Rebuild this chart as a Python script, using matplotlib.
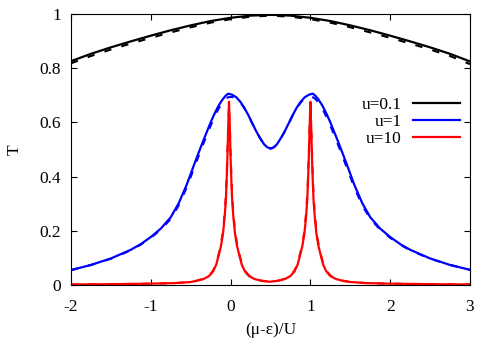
import matplotlib
matplotlib.use('Agg')
import matplotlib.pyplot as plt

plt.rcParams['font.family'] = ['Liberation Serif', 'DejaVu Serif']

# u=0.1 (black)
x_black = [-2.0, -1.75, -1.5, -1.25, -1.0, -0.75, -0.5, -0.25, 0.0, 0.25, 0.5,
           0.75, 1.0, 1.25, 1.5, 1.75, 2.0, 2.25, 2.5, 2.75, 3.0]
t_black = [0.826, 0.853, 0.877, 0.899, 0.920, 0.940, 0.958, 0.974, 0.986, 0.994, 0.997,
           0.994, 0.986, 0.974, 0.958, 0.940, 0.920, 0.899, 0.877, 0.853, 0.825]
t_black_d = [0.818, 0.845, 0.869, 0.891, 0.912, 0.932, 0.951, 0.968, 0.981, 0.990, 0.994,
             0.990, 0.981, 0.968, 0.951, 0.932, 0.912, 0.891, 0.869, 0.845, 0.815]

# u=1 (blue)
x_blue = [-2.0, -1.75, -1.5, -1.25, -1.125, -1.0, -0.875, -0.75, -0.65, -0.55,
          -0.45, -0.35, -0.25, -0.2, -0.15, -0.1, -0.06, -0.03, 0.02, 0.07,
          0.12, 0.17, 0.22, 0.27, 0.32, 0.37, 0.42, 0.46, 0.5,
          0.54, 0.58, 0.63, 0.68, 0.73, 0.78, 0.83, 0.88, 0.93, 0.98,
          1.03, 1.06, 1.1, 1.15, 1.2, 1.25, 1.35, 1.45, 1.55, 1.65,
          1.75, 1.875, 2.0, 2.125, 2.25, 2.5, 2.75, 3.0]
t_blue = [0.055, 0.074, 0.098, 0.13, 0.151, 0.177, 0.208, 0.25, 0.302, 0.37,
          0.45, 0.527, 0.60, 0.633, 0.662, 0.685, 0.699, 0.706, 0.702, 0.693,
          0.677, 0.655, 0.628, 0.598, 0.568, 0.542, 0.519, 0.508, 0.504,
          0.508, 0.519, 0.542, 0.568, 0.598, 0.628, 0.655, 0.677, 0.693, 0.702,
          0.706, 0.699, 0.685, 0.662, 0.633, 0.60, 0.527, 0.45, 0.37, 0.302,
          0.25, 0.208, 0.177, 0.151, 0.13, 0.098, 0.074, 0.056]
t_blue_d = [0.055, 0.074, 0.097, 0.128, 0.149, 0.174, 0.204, 0.244, 0.294, 0.36,
            0.438, 0.515, 0.588, 0.621, 0.651, 0.674, 0.687, 0.693, 0.694, 0.688,
            0.674, 0.653, 0.627, 0.597, 0.567, 0.541, 0.518, 0.507, 0.503,
            0.507, 0.518, 0.541, 0.567, 0.597, 0.627, 0.653, 0.674, 0.688, 0.694,
            0.693, 0.687, 0.674, 0.651, 0.621, 0.588, 0.515, 0.438, 0.36, 0.294,
            0.244, 0.204, 0.174, 0.149, 0.128, 0.097, 0.074, 0.056]

# u=10 (red)
x_red = [-2.0, -1.5, -1.0, -0.7, -0.5, -0.42, -0.34, -0.27, -0.22, -0.18, -0.145, -0.12,
         -0.095, -0.075, -0.06, -0.05, -0.04, -0.03, -0.02, -0.01, 0.0, 0.01, 0.02,
         0.035, 0.055, 0.08, 0.105, 0.14, 0.18, 0.23, 0.30, 0.38, 0.49,
         0.6, 0.68, 0.75, 0.8, 0.84, 0.875, 0.9, 0.925, 0.945, 0.96, 0.97, 0.98, 0.99,
         1.0, 1.01, 1.02, 1.03, 1.04, 1.055, 1.075, 1.1, 1.125, 1.16, 1.2, 1.25, 1.32,
         1.4, 1.5, 1.7, 2.0, 2.5, 3.0]
t_red = [0.002, 0.003, 0.005, 0.007, 0.011, 0.016, 0.022, 0.033, 0.05, 0.075, 0.115, 0.145,
         0.19, 0.25, 0.31, 0.38, 0.47, 0.58, 0.676, 0.58, 0.47, 0.38, 0.31,
         0.25, 0.19, 0.145, 0.115, 0.075, 0.05, 0.033, 0.022, 0.016, 0.012,
         0.016, 0.022, 0.033, 0.05, 0.075, 0.115, 0.145, 0.19, 0.25, 0.31, 0.38, 0.47, 0.58,
         0.676, 0.58, 0.47, 0.38, 0.31, 0.25, 0.19, 0.145, 0.115, 0.075, 0.05, 0.033, 0.022,
         0.016, 0.011, 0.007, 0.005, 0.003, 0.002]
t_red_d = [0.002, 0.003, 0.005, 0.007, 0.011, 0.016, 0.023, 0.035, 0.053, 0.08, 0.12, 0.155,
           0.2, 0.265, 0.33, 0.40, 0.49, 0.59, 0.66, 0.59, 0.49, 0.40, 0.33,
           0.265, 0.2, 0.155, 0.12, 0.08, 0.053, 0.035, 0.023, 0.016, 0.012,
           0.016, 0.023, 0.035, 0.053, 0.08, 0.12, 0.155, 0.2, 0.265, 0.33, 0.40, 0.49, 0.59,
           0.66, 0.59, 0.49, 0.40, 0.33, 0.265, 0.2, 0.155, 0.12, 0.08, 0.053, 0.035, 0.023,
           0.016, 0.011, 0.007, 0.005, 0.003, 0.002]

xticks = [-2, -1, 0, 1, 2, 3]
yticks = [0, 0.2, 0.4, 0.6, 0.8, 1]
ytick_labels = ['0', '0.2', '0.4', '0.6', '0.8', '1']

fig = plt.figure(figsize=(4.85, 3.46), dpi=100)
ax = fig.add_axes([71 / 485, 1 - 285 / 346, 399 / 485, 271 / 346])

dash = (0, (3.5, 5))
ax.plot(x_black, t_black_d, color='black', lw=1.5, ls=dash)
ax.plot(x_blue, t_blue_d, color='#0000ff', lw=1.5, ls=dash)
ax.plot(x_red, t_red_d, color='#ff0000', lw=1.5, ls=dash)
ax.plot(x_black, t_black, color='black', lw=1.6, label='u=0.1')
ax.plot(x_blue, t_blue, color='#0000ff', lw=1.6, label='u=1')
ax.plot(x_red, t_red, color='#ff0000', lw=1.6, label='u=10')

ax.set_xlim(-2, 3)
ax.set_ylim(0, 1)
ax.set_xticks(xticks)
ax.set_xticklabels([str(v) for v in xticks])
ax.set_yticks(yticks)
ax.set_yticklabels(ytick_labels)
ax.tick_params(direction='in', top=True, right=True, length=4, width=0.8,
               labelsize=12.5, colors='black')
ax.tick_params(axis='x', pad=10)
ax.tick_params(axis='y', pad=7)
for s in ax.spines.values():
    s.set_linewidth(0.8)

ax.set_xlabel('(μ-ε)/U', fontsize=12.5, labelpad=5)
ax.set_ylabel('T', fontsize=12.5, labelpad=12)

ax.legend(loc='upper right', bbox_to_anchor=(0.975, 0.695), frameon=False,
          markerfirst=False, fontsize=12.5, handlelength=2.7, handletextpad=0.65,
          labelspacing=0.05, borderpad=0, borderaxespad=0)
leg = ax.get_legend()
leg._legend_box.align = 'right'

fig.savefig('out.png', dpi=100)
